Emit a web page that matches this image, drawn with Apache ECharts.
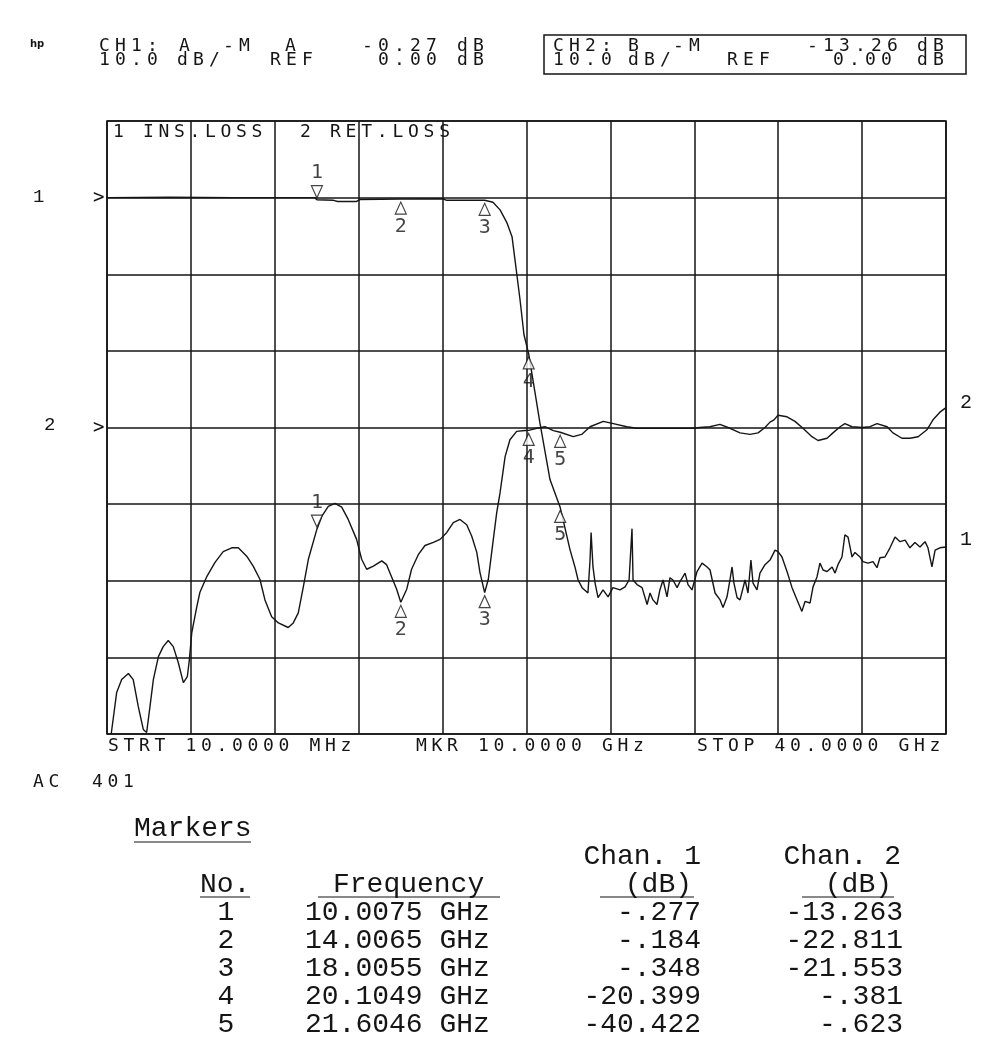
<!DOCTYPE html>
<html>
<head>
<meta charset="utf-8">
<script src="https://cdn.jsdelivr.net/npm/echarts@6/dist/echarts.min.js"></script>
<style>
html,body{margin:0;padding:0;background:#fff;}
#chart{width:1000px;height:1056px;}
</style>
</head>
<body>
<div id="chart"></div>
<script>
// ---------- DATA ----------
// Frequency axis (GHz): start 10 MHz, stop 40 GHz, 10 divisions
const xTicks = [0, 4, 8, 12, 16, 20, 24, 28, 32, 36, 40];
// Channel 1: insertion loss, [GHz, dB]
const ch1Trace = [
[0.01,0],[3,0.05],[6,0],[9.9,0],[10.0075,-0.277],[10.8,-0.35],[11.0,-0.5],[11.9,-0.5],[12.05,-0.25],[14.0065,-0.184],[16.0,-0.15],[16.2,-0.35],[18.0055,-0.348],[18.4,-0.6],[18.74,-1.6],[19.07,-3.3],[19.31,-5.1],[19.45,-8.1],[19.69,-13.3],[19.88,-17.9],[20.1049,-20.399],[20.41,-25.5],[20.64,-29.4],[21.12,-36.8],[21.6046,-40.422],
[21.74,-42.0],[22.07,-45.9],[22.31,-48.2],[22.46,-49.9],[22.65,-50.9],[22.93,-51.6],[23.03,-47.3],[23.08,-43.7],[23.17,-48.2],[23.27,-50.3],[23.41,-52.2],[23.65,-51.2],[23.89,-52.1],[24.12,-50.9],[24.46,-51.2],[24.70,-50.8],[24.89,-49.9],[25.03,-43.2],[25.08,-49.9],[25.27,-50.5],[25.51,-50.9],[25.75,-53.1],[25.89,-51.6],[26.03,-52.5],[26.22,-53.1],[26.36,-51.2],[26.51,-49.9],[26.70,-52.1],[26.84,-49.6],[26.98,-49.9],[27.18,-50.9],[27.32,-50.1],[27.56,-49.0],[27.70,-50.5],[27.89,-51.2],[28.13,-48.8],[28.37,-47.7],[28.61,-48.2],[28.75,-48.6],[28.99,-51.6],[29.23,-52.5],[29.37,-53.5],[29.56,-52.1],[29.70,-49.9],[29.80,-48.2],[29.89,-50.3],[30.04,-52.2],[30.18,-52.5],[30.42,-49.9],[30.56,-51.6],[30.70,-47.3],[30.80,-50.3],[30.99,-51.2],[31.13,-49.0],[31.37,-47.9],[31.61,-47.3],[31.85,-46.0],[31.99,-46.2],[32.18,-46.9],[32.42,-48.8],[32.66,-50.9],[32.90,-52.5],[33.13,-54.0],[33.28,-52.7],[33.52,-52.9],[33.66,-50.8],[33.85,-49.5],[33.99,-47.7],[34.14,-48.6],[34.33,-48.8],[34.57,-48.2],[34.71,-49.0],[34.85,-47.9],[35.04,-46.9],[35.18,-44.0],[35.33,-44.3],[35.52,-46.9],[35.66,-46.3],[35.90,-46.9],[36.04,-47.5],[36.28,-47.7],[36.52,-47.5],[36.71,-48.3],[36.85,-47.0],[37.09,-46.9],[37.33,-45.7],[37.57,-44.3],[37.81,-44.9],[38.05,-44.7],[38.28,-45.7],[38.52,-45.0],[38.76,-45.6],[39.00,-44.9],[39.14,-45.7],[39.33,-48.2],[39.48,-46.0],[39.71,-45.7],[40.0,-45.6]
];
// Channel 2: return loss, [GHz, dB]
const ch2Trace = [
[0.2,-40],[0.46,-34.6],[0.70,-32.9],[1.02,-32.1],[1.25,-32.9],[1.49,-36.4],[1.73,-39.4],[1.89,-39.8],[2.05,-36.4],[2.21,-32.9],[2.45,-29.9],[2.68,-28.6],[2.92,-27.8],[3.16,-28.6],[3.40,-30.7],[3.64,-33.3],[3.83,-32.5],[3.92,-30.5],[4.04,-26.8],[4.28,-23.4],[4.43,-21.5],[4.75,-19.5],[5.15,-17.6],[5.54,-16.2],[5.95,-15.7],[6.26,-15.7],[6.66,-16.8],[6.97,-18.1],[7.29,-19.8],[7.53,-22.5],[7.85,-24.7],[8.17,-25.5],[8.64,-26.1],[8.88,-25.5],[9.12,-24.2],[9.36,-20.8],[9.60,-17.2],[10.0075,-13.263],[10.24,-11.6],[10.55,-10.3],[10.87,-9.9],[11.19,-10.4],[11.50,-12.0],[11.90,-14.6],[12.14,-17.2],[12.38,-18.5],[12.70,-18.1],[13.10,-17.4],[13.33,-17.9],[13.57,-19.5],[13.81,-21.1],[14.0065,-22.811],[14.29,-21.1],[14.52,-18.5],[14.84,-16.6],[15.16,-15.4],[15.56,-15.0],[15.88,-14.6],[16.20,-13.7],[16.51,-12.4],[16.83,-12.0],[17.15,-12.7],[17.39,-14.2],[17.63,-16.3],[17.78,-18.9],[18.0055,-21.553],[18.18,-19.8],[18.34,-16.3],[18.58,-11.1],[18.74,-8.5],[18.98,-3.8],[19.21,-1.6],[19.53,-0.5],[19.93,-0.4],[20.1049,-0.381],[20.49,-0.1],[20.88,0.1],[21.28,-0.4],[21.6046,-0.623],[22.23,-1.2],[22.63,-0.9],[23.03,0.1],[23.66,0.8],[24.14,0.5],[24.78,0.1],[25.25,-0.1],[25.89,-0.1],[27.95,-0.1],[28.26,0],[28.74,0.1],[29.22,0.4],[29.70,-0.1],[30.18,-0.7],[30.66,-0.9],[31.04,-0.7],[31.37,0],[31.61,0.7],[31.80,1.0],[31.99,1.6],[32.42,1.4],[32.80,0.8],[33.18,-0.1],[33.61,-1.2],[33.90,-1.7],[34.33,-1.4],[34.61,-0.7],[34.95,0.1],[35.18,0.5],[35.52,0.1],[36.00,0],[36.38,0.1],[36.71,0.5],[37.19,0.1],[37.47,-0.7],[37.90,-1.4],[38.28,-1.4],[38.67,-1.2],[39.09,-0.3],[39.38,1.0],[39.71,2.0],[40.0,2.6]
];
// Markers table
const markerNo = ['1', '2', '3', '4', '5'];
const markerFreq = [10.0075, 14.0065, 18.0055, 20.1049, 21.6046];
const markerCh1 = [-0.277, -0.184, -0.348, -20.399, -40.422];
const markerCh2 = [-13.263, -22.811, -21.553, -0.381, -0.623];

// ---------- LAYOUT / STYLE ----------
const INK = '#151515';
const PLOT = "'DejaVu Sans Mono', monospace";
const TYPE = "'Liberation Mono', 'Courier New', monospace";
const G = {left: 107, top: 121, width: 839, height: 613};
const PS = 18; // plotter text size

function txt(str, x, y, size, family, align, weight) {
  return {type: 'text', silent: true, style: {
    text: str, x: x, y: y, font: (weight || 'normal') + ' ' + size + 'px ' + family,
    fill: INK, align: align || 'left', textAlign: align || 'left',
    verticalAlign: 'middle', textVerticalAlign: 'middle'
  }};
}
// plotter style: each character on a fixed pitch
function plot(str, x, y, pitch, size) {
  const out = [];
  for (let i = 0; i < str.length; i++) {
    if (str[i] === ' ') continue;
    out.push(txt(str[i], x + i * pitch, y, size || PS, PLOT, 'left'));
  }
  return out;
}
function hline(x1, x2, y, w) {
  return {type: 'line', silent: true, shape: {x1: x1, y1: y, x2: x2, y2: y}, style: {stroke: INK, lineWidth: w || 1.2}};
}
function fmtDb(v) {
  let s = v.toFixed(3);
  if (s.startsWith('-0.')) s = '-' + s.slice(2);
  return s;
}

const gfx = [];
// header
gfx.push(txt('hp', 30, 44, 10, "'DejaVu Sans'", 'left', 'bold'));
const P = 16;
const L1 = 46, L2 = 60;
[['CH1:', 99], ['A', 179], ['-M', 223], ['A', 285], ['-0.27', 362], ['dB', 457]].forEach(a => gfx.push(...plot(a[0], a[1], L1, P)));
[['10.0', 99], ['dB/', 177], ['REF', 270], ['0.00', 378], ['dB', 457]].forEach(a => gfx.push(...plot(a[0], a[1], L2, P)));
gfx.push({type: 'rect', silent: true, shape: {x: 544, y: 35, width: 422, height: 39}, style: {fill: 'none', stroke: INK, lineWidth: 1.5}});
[['CH2:', 553], ['B', 628], ['-M', 673], ['-13.26', 807], ['dB', 917]].forEach(a => gfx.push(...plot(a[0], a[1], L1, P)));
[['10.0', 553], ['dB/', 628], ['REF', 727], ['0.00', 833], ['dB', 917]].forEach(a => gfx.push(...plot(a[0], a[1], L2, P)));
// inside plot title
gfx.push(...plot('1', 113, 132, 15.5));
gfx.push(...plot('INS.LOSS', 143, 132, 15.5));
gfx.push(...plot('2', 300, 132, 15.5));
gfx.push(...plot('RET.LOSS', 330, 132, 15.6));
// reference indicators
gfx.push(txt('1', 33, 197, 19, TYPE));
gfx.push(txt('>', 93, 198, 19, PLOT));
gfx.push(txt('2', 44, 425, 19, TYPE));
gfx.push(txt('>', 93, 428, 19, PLOT));
gfx.push(txt('2', 960, 403, 20, TYPE));
gfx.push(txt('1', 960, 540, 20, TYPE));
// bottom annotation
gfx.push(...plot('STRT 10.0000 MHz', 108, 746, 15.5));
gfx.push(...plot('MKR 10.0000 GHz', 416, 746, 15.5));
gfx.push(...plot('STOP 40.0000 GHz', 697, 746, 15.5));
gfx.push(...plot('AC', 33, 782, 15.5));
gfx.push(...plot('401', 92, 782, 15.5));
// markers table
const TS = 28;
gfx.push(txt('Markers', 134, 829, TS, TYPE));
gfx.push(hline(134, 251, 842));
gfx.push(txt('Chan. 1', 701, 857, TS, TYPE, 'right'));
gfx.push(txt('Chan. 2', 901, 857, TS, TYPE, 'right'));
gfx.push(txt('No.', 200, 885, TS, TYPE));
gfx.push(txt('Frequency', 333, 885, TS, TYPE));
gfx.push(txt('(dB)', 692, 885, TS, TYPE, 'right'));
gfx.push(txt('(dB)', 892, 885, TS, TYPE, 'right'));
gfx.push(hline(200, 250, 897));
gfx.push(hline(318, 500, 897));
gfx.push(hline(600, 694, 897));
gfx.push(hline(802, 894, 897));
markerNo.forEach((n, i) => {
  const y = 913 + i * 27.8;
  gfx.push(txt(n, 226, y, TS, TYPE, 'center'));
  gfx.push(txt(markerFreq[i].toFixed(4) + ' GHz', 305, y, TS, TYPE));
  gfx.push(txt(fmtDb(markerCh1[i]), 701, y, TS, TYPE, 'right'));
  gfx.push(txt(fmtDb(markerCh2[i]), 903, y, TS, TYPE, 'right'));
});

const UP = 'path://M5,0 L10,10 L0,10 Z';
const DOWN = 'path://M0,0 L10,0 L5,10 Z';
function markerSeries(vals, yIdx) {
  return {
    type: 'scatter', yAxisIndex: yIdx, z: 5, silent: true,
    data: markerFreq.map((f, i) => ({
      value: [f, vals[i]],
      symbol: i === 0 ? DOWN : UP,
      symbolOffset: i === 0 ? [0, -8] : [0, 9],
      label: {show: true, position: i === 0 ? 'top' : 'bottom', distance: 2,
        formatter: markerNo[i], fontFamily: PLOT, fontSize: 20, color: INK}
    })),
    symbolSize: [11, 12],
    itemStyle: {color: '#fff', borderColor: INK, borderWidth: 1.2}
  };
}

const option = {
  backgroundColor: '#fff',
  animation: false,
  grid: {left: G.left, top: G.top, width: G.width, height: G.height, show: true, borderColor: INK, borderWidth: 1.6, backgroundColor: 'transparent'},
  xAxis: {type: 'value', min: xTicks[0], max: xTicks[xTicks.length - 1], interval: 4,
    axisLabel: {show: false}, axisTick: {show: false}, axisLine: {show: false},
    splitLine: {show: true, lineStyle: {color: INK, width: 1.5}}},
  yAxis: [
    {type: 'value', min: -70, max: 10, interval: 10, axisLabel: {show: false}, axisTick: {show: false}, axisLine: {show: false},
      splitLine: {show: true, lineStyle: {color: INK, width: 1.5}}},
    {type: 'value', min: -40, max: 40, interval: 10, axisLabel: {show: false}, axisTick: {show: false}, axisLine: {show: false},
      splitLine: {show: false}}
  ],
  graphic: {elements: gfx},
  series: [
    {type: 'line', yAxisIndex: 0, data: ch1Trace, showSymbol: false, silent: true, clip: true,
      lineStyle: {color: INK, width: 1.4}, z: 3},
    {type: 'line', yAxisIndex: 1, data: ch2Trace, showSymbol: false, silent: true, clip: true,
      lineStyle: {color: INK, width: 1.4}, z: 3},
    markerSeries(markerCh1, 0),
    markerSeries(markerCh2, 1)
  ]
};
const chart = echarts.init(document.getElementById('chart'), null, {renderer: 'canvas'});
chart.setOption(option);
</script>
</body>
</html>
